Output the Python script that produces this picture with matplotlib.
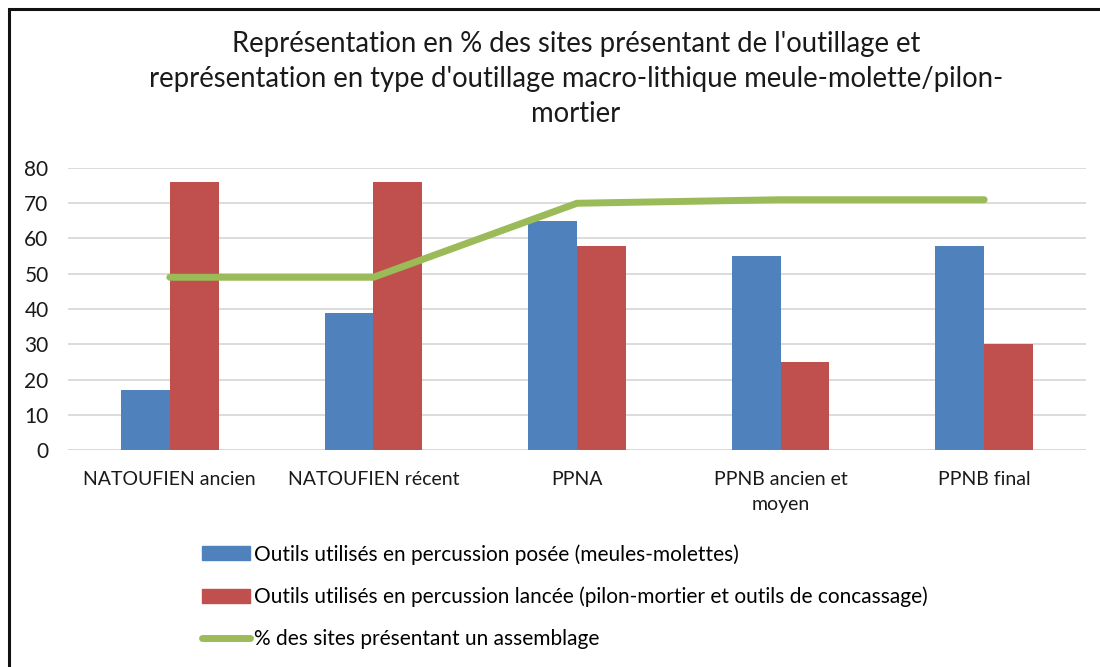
import numpy as np
import matplotlib.pyplot as plt
from matplotlib.patches import Rectangle
from matplotlib.lines import Line2D

plt.rcParams['font.family'] = ['Lato', 'DejaVu Sans']

categories = ['NATOUFIEN ancien', 'NATOUFIEN récent', 'PPNA', 'PPNB ancien et\nmoyen', 'PPNB final']
posee = [17, 39, 65, 55, 58]
lancee = [76, 76, 58, 25, 30]
sites = [49, 49, 70, 71, 71]

labels = [
    'Outils utilisés en percussion posée (meules-molettes)',
    'Outils utilisés en percussion lancée (pilon-mortier et outils de concassage)',
    '% des sites présentant un assemblage',
]
title = ("Représentation en % des sites présentant de l'outillage et\n"
         "représentation en type d'outillage macro-lithique meule-molette/pilon-\n"
         "mortier")

BLUE = '#4F81BD'
RED = '#C0504D'
GREEN = '#9BBB59'
GRID = '#D9D9D9'
TEXT = '#1A1A1A'

W, H = 1100, 667
fig = plt.figure(figsize=(11, 6.67), dpi=100)
fig.patch.set_facecolor('white')

# plot area in pixel coordinates
left, right, top, bottom = 68, 1086, 168, 450
ax = fig.add_axes([left / W, 1 - bottom / H, (right - left) / W, (bottom - top) / H])

x = np.arange(len(categories))
bw = 0.24
ax.bar(x - bw / 2, posee, bw, color=BLUE, zorder=2)
ax.bar(x + bw / 2, lancee, bw, color=RED, zorder=2)
ax.plot(x, sites, color=GREEN, lw=5, solid_capstyle='round', solid_joinstyle='round', zorder=3)

ax.set_xlim(-0.5, len(categories) - 0.5)
ax.set_ylim(0, 80)
ax.set_yticks(range(0, 81, 10))
ax.set_xticks(x)
ax.set_xticklabels(categories, fontsize=14, color=TEXT, linespacing=1.6)
ax.tick_params(axis='y', labelsize=15, colors=TEXT, length=0, pad=14)
ax.tick_params(axis='x', length=0, pad=15, colors=TEXT)
ax.grid(axis='y', color=GRID, lw=1.3, zorder=0)
for s in ax.spines.values():
    s.set_visible(False)
ax.axhline(0, color=GRID, lw=1.3, zorder=1)

fig.text(576 / W, 1 - 31 / H, title, ha='center', va='top', fontsize=19.8,
         color=TEXT, linespacing=1.42, multialignment='center')

# legend
handles = [
    Rectangle((0, 0), 1, 1, color=BLUE),
    Rectangle((0, 0), 1, 1, color=RED),
    Line2D([0], [0], color=GREEN, lw=5, solid_capstyle='round'),
]
fig.legend(handles, labels, loc='upper left', bbox_to_anchor=(202 / W, 1 - 544 / H),
           frameon=False, fontsize=15, labelspacing=1.05, handlelength=2.3,
           handleheight=0.65, handletextpad=0.2, borderaxespad=0, borderpad=0)

# outer frame (left and top edges visible)
fig.add_artist(Rectangle((9 / W, -0.1), 1.2, 1.1 - 9 / H, transform=fig.transFigure,
                         fill=False, ec='#111111', lw=2.2))

fig.savefig('out.png', dpi=100, facecolor='white')
